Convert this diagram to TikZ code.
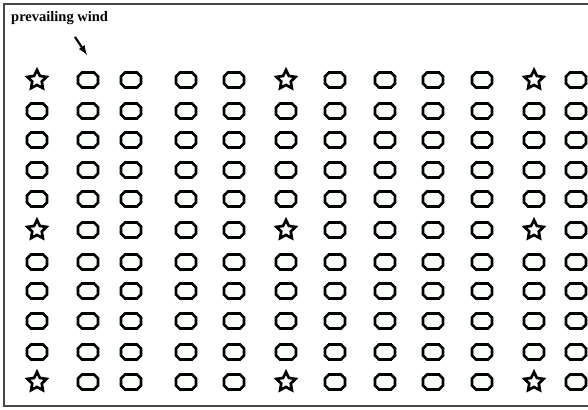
\documentclass[tikz,border=0pt]{standalone}
\usepackage{fontspec}
\setmainfont{Liberation Serif}
\usepackage{xcolor}
\usetikzlibrary{shapes.geometric,arrows}

\definecolor{plotfill}{RGB}{250,255,250}
\definecolor{framegray}{RGB}{70,70,70}

\tikzset{
  plant/.style={draw, line width=2.6pt, fill=plotfill, line join=miter},
  sensor/.style={star, star points=5, star point ratio=2.0, draw, line width=2.7pt,
    fill=white, minimum size=20pt, inner sep=0pt}
}

\begin{document}
\begin{tikzpicture}[x=1pt, y=-1pt]
    \useasboundingbox (0,0) rectangle (588,409);
    % frame, open on the right
    \draw[line width=2pt, framegray] (588,4) -- (4,4) -- (4,406) -- (588,406);

    % title and wind direction
    \node[anchor=west, inner sep=0pt] (title) at (11,18) {\fontsize{14.5}{16}\selectfont\bfseries prevailing wind};
    \coordinate (wind tail) at (75,37);
    \coordinate (wind head) at (87,55);
    \draw[-latex, line width=2.2pt] (wind tail) -- (wind head);

    % field: stars at rows/columns 1, 6, 11, octagon plots elsewhere
    \foreach \x [count=\c] in {37,88,131,186,234,286,335,385,433,482,534,576} {
        \foreach \y [count=\r] in {80,111,140,170,199,230,262,291,321,352,382} {
            \pgfmathtruncatemacro{\isstar}{and(or(or(\c==1,\c==6),\c==11),or(or(\r==1,\r==6),\r==11))}
            \ifnum\isstar=1
                \node[sensor] (s-\r-\c) at (\x,\y) {};
            \else
                \coordinate (p-\r-\c) at (\x,\y);
                \draw[plant, shift={(p-\r-\c)}] (-10,-3.5) -- (-6,-7.5) -- (6,-7.5) -- (10,-3.5)
                    -- (10,3.5) -- (6,7.5) -- (-6,7.5) -- (-10,3.5) -- cycle;
            \fi
        }
    }
\end{tikzpicture}
\end{document}
